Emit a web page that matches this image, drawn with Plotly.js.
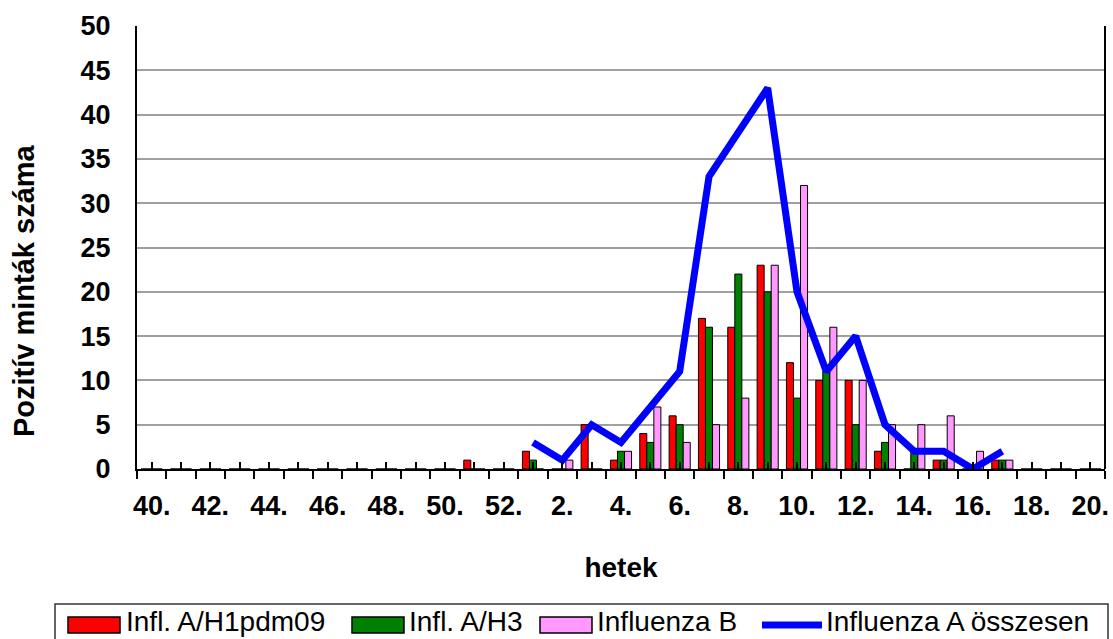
<!DOCTYPE html>
<html>
<head>
<meta charset="utf-8">
<script src="https://cdn.plot.ly/plotly-3.0.1.min.js"></script>
<style>html,body{margin:0;padding:0;background:#fff;}#chart{width:1113px;height:639px;}</style>
</head>
<body>
<div id="chart"></div>
<script>
// Weeks (season: week 40 .. week 20)
const weeks = ['40','41','42','43','44','45','46','47','48','49','50','51','52',
               '1','2','3','4','5','6','7','8','9','10','11','12','13','14','15','16','17','18','19','20'];
const tickLabels = weeks.map((w, i) => (i % 2 === 0 ? w + '.' : ''));

const seriesNames = ['Infl. A/H1pdm09', 'Infl. A/H3', 'Influenza B', 'Influenza A összesen'];
const yTitle = 'Pozitív minták száma';
const xTitle = 'hetek';

const h1pdm09 = [0,0,0,0,0,0,0,0,0,0,0,1,0, 2,0,5,1,4,6,17,16,23,12,10,10,2,0,1,0,1,0,0,0];
const h3      = [0,0,0,0,0,0,0,0,0,0,0,0,0, 1,0,0,2,3,5,16,22,20,8,11,5,3,2,1,0,1,0,0,0];
const inflB   = [0,0,0,0,0,0,0,0,0,0,0,0,0, 0,1,0,2,7,3,5,8,23,32,16,10,5,5,6,2,1,0,0,0];

const totalWeeks = ['1','2','3','4','5','6','7','8','9','10','11','12','13','14','15','16','17'];
const totalA     = [3,1,5,3,7,11,33,38,43,20,11,15,5,2,2,0,2];

const colors = ['#FF0000', '#008000', '#FF99FF', '#0000FF'];

// plot-area geometry in pixels (for legend / title placement)
const L = 137, R = 1105, T = 26, B = 469;
const px = v => (v - L) / (R - L);
const py = v => (B - v) / (B - T);

const bar = (y, i) => ({
  type: 'bar', x: weeks, y: y, name: seriesNames[i],
  marker: {color: colors[i], line: {color: '#000', width: 1}},
  showlegend: false, hoverinfo: 'x+y'
});

const traces = [
  bar(h1pdm09, 0), bar(h3, 1), bar(inflB, 2),
  {type: 'scatter', mode: 'lines', x: totalWeeks, y: totalA, name: seriesNames[3],
   line: {color: colors[3], width: 7}, showlegend: false},
  {type: 'scatter', mode: 'markers', x: [0], y: [0], xaxis: 'x2', marker: {opacity: 0},
   showlegend: false, hoverinfo: 'skip'}
];

const FAM = 'Liberation Sans, Arial, sans-serif';
const tickFont = {family: FAM, size: 27, color: '#000', weight: 'bold'};
const legFont = {family: FAM, size: 28, color: '#000'};

const shapes = [
  {type: 'line', xref: 'paper', yref: 'paper', x0: 1, x1: 1, y0: 0, y1: 1, line: {color: '#000', width: 2}},
  {type: 'rect', xref: 'paper', yref: 'paper', x0: px(55), x1: px(1108), y0: py(604), y1: py(660),
   line: {color: '#333', width: 1.5}, fillcolor: 'rgba(0,0,0,0)'}
];
const annotations = [
  {xref: 'paper', yref: 'paper', x: px(24), y: py(291), xanchor: 'center', yanchor: 'middle',
   textangle: -90, text: yTitle, showarrow: false,
   font: {family: FAM, size: 29, color: '#000', weight: 'bold'}}
];
const legItems = [
  {sx: 68, tx: 125},
  {sx: 352, tx: 408},
  {sx: 540, tx: 596},
  {sx: 762, tx: 825}
];
legItems.forEach((it, i) => {
  if (i < 3) {
    shapes.push({type: 'rect', xref: 'paper', yref: 'paper', x0: px(it.sx), x1: px(it.sx + 52),
      y0: py(633), y1: py(617), fillcolor: colors[i], line: {color: '#000', width: 1.5}});
  } else {
    shapes.push({type: 'line', xref: 'paper', yref: 'paper', x0: px(it.sx), x1: px(it.sx + 60),
      y0: py(625), y1: py(625), line: {color: colors[i], width: 7}});
  }
  annotations.push({xref: 'paper', yref: 'paper', x: px(it.tx), y: py(621), xanchor: 'left', yanchor: 'middle',
    text: seriesNames[i], showarrow: false, font: legFont, borderpad: 0});
});

const layout = {
  width: 1113, height: 639,
  margin: {l: L, r: 1113 - R, t: T, b: 639 - B},
  paper_bgcolor: '#fff', plot_bgcolor: '#fff',
  barmode: 'group', bargap: 0.28, bargroupgap: 0,
  showlegend: false,
  xaxis: {
    type: 'category', categoryarray: weeks, categoryorder: 'array',
    range: [-0.5, weeks.length - 0.5],
    tickmode: 'array', tickvals: weeks, ticktext: tickLabels,
    tickson: 'boundaries', ticks: 'outside', ticklen: 8, tickwidth: 2, tickcolor: '#000',
    showline: true, linecolor: '#000', linewidth: 2,
    showgrid: false, zeroline: false,
    tickfont: tickFont, tickangle: 0, ticklabelstandoff: 12,
    title: {text: xTitle, font: {family: FAM, size: 28, color: '#000', weight: 'bold'}, standoff: 37},
    fixedrange: true
  },
  xaxis2: {
    overlaying: 'x', anchor: 'y', side: 'bottom', type: 'linear',
    range: [-0.5, weeks.length - 0.5], tickmode: 'linear', tick0: 0, dtick: 1,
    ticks: 'inside', ticklen: 7, tickwidth: 2, tickcolor: '#000',
    showticklabels: false, showgrid: false, zeroline: false, showline: false
  },
  yaxis: {
    range: [0, 50], tickmode: 'linear', tick0: 0, dtick: 5,
    showgrid: true, gridcolor: '#a0a0a0', gridwidth: 2,
    showline: true, linecolor: '#000', linewidth: 2,
    zeroline: false, ticks: '', tickfont: tickFont, ticklabelstandoff: 19,
    fixedrange: true
  },
  shapes: shapes,
  annotations: annotations
};

Plotly.newPlot('chart', traces, layout, {staticPlot: true, displayModeBar: false});
</script>
</body>
</html>
